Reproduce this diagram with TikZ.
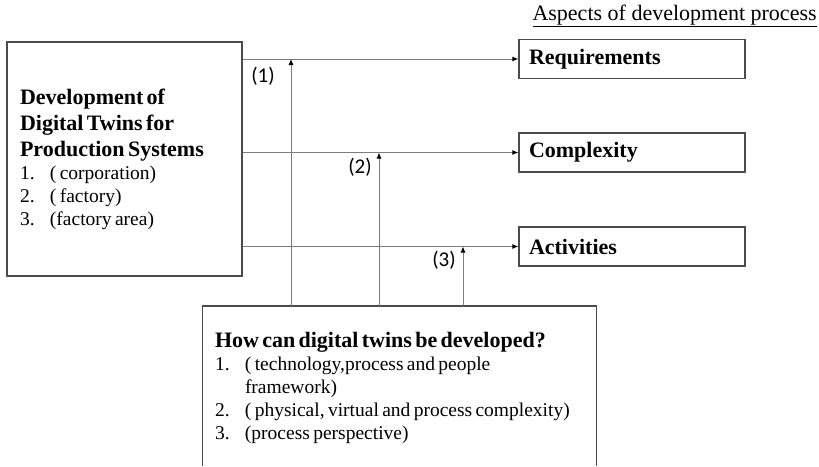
\documentclass[tikz,border=0pt]{standalone}
\usepackage{fontspec}
\setmainfont{Liberation Serif}
\newfontfamily\numfont{Carlito}
\usepackage{tikz}
\usetikzlibrary{arrows.meta}
\definecolor{linegray}{RGB}{125,125,125}
\definecolor{boxgray}{RGB}{75,75,75}
\tikzset{
    aspectbox/.style = {draw = boxgray, line width = 1.3pt, minimum width = 226pt,
        minimum height = 39pt, text width = 206pt, inner xsep = 10pt, align = left,
        font = \fontsize{22}{26}\selectfont\bfseries},
    flow/.style = {draw = linegray, line width = 0.9pt, -{Latex[length=6pt,width=5pt,black]}},
    numlabel/.style = {font = \numfont\fontsize{21}{23}\selectfont}
}
\newcommand{\itemno}[1]{\makebox[30pt][l]{#1}}

\begin{document}
\begin{tikzpicture}[x=1pt,y=-1pt]
        \useasboundingbox (0,0) rectangle (819,466);
        \node (aspects_title)[anchor = base west, font = \fontsize{22}{26}\selectfont]
        at (529,20) {\underline{Aspects of development process}};

        \node (dev_box)[draw = boxgray, line width = 1.3pt, minimum width = 235pt,
        minimum height = 234pt, text width = 209pt, inner xsep = 13pt, align = left]
        at (124.5,159) {{\fontsize{22}{26}\selectfont\bfseries Development of\\
        Digital Twins for\\ Production Systems\par}%
        {\fontsize{19.5}{23}\selectfont \itemno{1.}( corporation)\\
        \itemno{2.}( factory)\\ \itemno{3.}(factory area)\par}};

        \node (req_box)[aspectbox] at (632,59) {Requirements};
        \node (cmp_box)[aspectbox] at (632,152.5) {Complexity};
        \node (act_box)[aspectbox] at (632,246.5) {Activities};

        \node (hw_box)[minimum width = 393pt, minimum height = 160pt, text width = 369pt,
        inner xsep = 12pt, align = left]
        at (399.5,388) {{\fontsize{22}{26}\selectfont\bfseries How can digital twins be developed?\par}%
        {\fontsize{19.5}{23}\selectfont \itemno{1.}( technology,process and people\\
        \hspace*{30pt}framework)\\
        \itemno{2.}( physical, virtual and process complexity)\\
        \itemno{3.}(process perspective)\par}};
        \draw[boxgray, line width = 1.3pt] (hw_box.south west |- 0,466) -- (hw_box.west |- 0,306)
        -- (hw_box.east |- 0,306) -- (hw_box.south east |- 0,466);

        \path(dev_box.east |- req_box.west) edge[flow] (req_box.west);
        \path(dev_box.east |- cmp_box.west) edge[flow] (cmp_box.west);
        \path(dev_box.east |- act_box.west) edge[flow] (act_box.west);

        \coordinate (tip_1) at (291,59);
        \coordinate (tip_2) at (379,152.5);
        \coordinate (tip_3) at (463,246.5);
        \path(tip_1 |- 0,306) edge[flow] (tip_1);
        \path(tip_2 |- 0,306) edge[flow] (tip_2);
        \path(tip_3 |- 0,306) edge[flow] (tip_3);

        \node (lab_1)[numlabel] at (263,76) {(1)};
        \node (lab_2)[numlabel] at (360,167) {(2)};
        \node (lab_3)[numlabel] at (444,260) {(3)};
    \end{tikzpicture}
\end{document}
